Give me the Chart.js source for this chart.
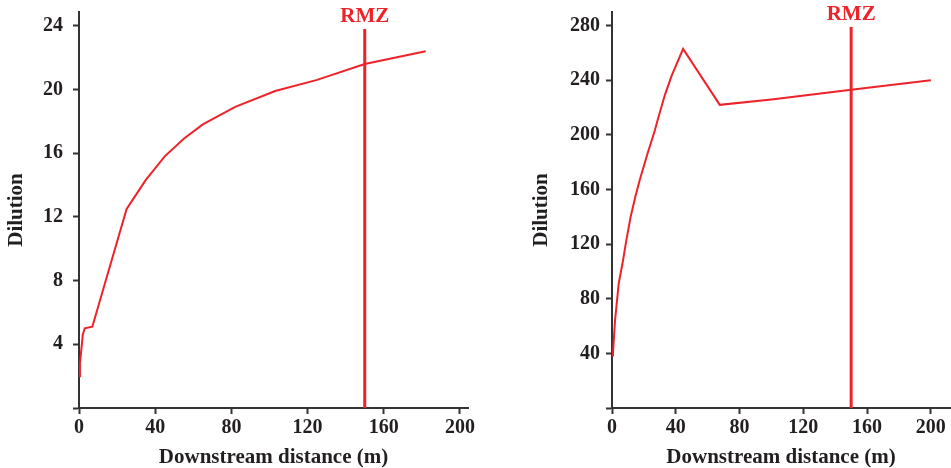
<!DOCTYPE html>
<html>
<head>
<meta charset="utf-8">
<script src="https://cdn.jsdelivr.net/npm/chart.js@4/dist/chart.umd.min.js"></script>
<style>
  html, body { margin: 0; padding: 0; background: #fff; }
  body { width: 951px; height: 468px; position: relative; overflow: hidden; }
  .box { position: absolute; top: 0; height: 468px; }
  #leftBox { left: 0; width: 480px; }
  #rightBox { left: 480px; width: 471px; }
</style>
</head>
<body>
<div class="box" id="leftBox"><canvas id="left"></canvas></div>
<div class="box" id="rightBox"><canvas id="right"></canvas></div>
<script>
// ---- Data ----
const leftDistance = [0, 0.5, 1, 2, 3, 7, 15, 25, 35, 45, 55, 65, 82, 103, 125, 150, 182];
const leftDilution = [2.0, 2.8, 3.4, 4.6, 5.0, 5.1, 8.4, 12.5, 14.3, 15.8, 16.9, 17.8, 18.9, 19.9, 20.6, 21.6, 22.4];

const rightDistance = [0, 0.6, 1.9, 4.2, 6.9, 9, 11.7, 14.7, 17.4, 22.2, 26.8, 28.9, 33.1, 37.3, 44.6, 67.6, 100, 150, 200];
const rightDilution = [38.5, 40, 64, 91, 108, 123, 140, 155, 167, 186, 203, 212, 229, 243, 263, 222, 226, 233, 240];

const rmzDistance = 150;
const leftRmzTop = 23.8;
const rightRmzTop = 279;

const xTicks = [0, 40, 80, 120, 160, 200];
const leftYTicks = [0, 4, 8, 12, 16, 20, 24];
const rightYTicks = [0, 40, 80, 120, 160, 200, 240, 280];

const xTitle = 'Downstream distance (m)';
const yTitle = 'Dilution';
const rmzText = 'RMZ';

// ---- Styles ----
const RED = '#ee2229';
const INK = '#231f20';
const AXIS = '#333333';
const SERIF = '"Liberation Serif", "Times New Roman", serif';

const rmzLabel = {
  id: 'rmzLabel',
  afterDatasetsDraw(chart, args, opts) {
    const { ctx, scales } = chart;
    const px = scales.x.getPixelForValue(opts.at);
    const py = scales.y.getPixelForValue(opts.top) - 7;
    ctx.save();
    ctx.font = 'bold 21px ' + SERIF;
    ctx.fillStyle = RED;
    ctx.textAlign = 'center';
    ctx.textBaseline = 'alphabetic';
    ctx.fillText(opts.text, px, py);
    ctx.restore();
  }
};

function makeChart(id, xs, ys, cfg) {
  const curve = xs.map((x, i) => ({ x: x, y: ys[i] }));
  const rmz = [{ x: rmzDistance, y: 0 }, { x: rmzDistance, y: cfg.rmzTop }];
  return new Chart(document.getElementById(id), {
    type: 'line',
    data: {
      datasets: [
        { data: curve, borderColor: RED, borderWidth: 2, pointRadius: 0, tension: 0, clip: false },
        { data: rmz, borderColor: RED, borderWidth: 3, pointRadius: 0, tension: 0, clip: false }
      ]
    },
    plugins: [rmzLabel],
    options: {
      responsive: true,
      maintainAspectRatio: false,
      animation: false,
      events: [],
      layout: { padding: { top: 12, right: cfg.padRight, bottom: 0, left: 0 } },
      plugins: {
        legend: { display: false },
        tooltip: { enabled: false },
        rmzLabel: { at: rmzDistance, top: cfg.rmzTop, text: rmzText }
      },
      scales: {
        x: {
          type: 'linear',
          min: 0,
          max: cfg.xMax,
          afterBuildTicks: (axis) => { axis.ticks = xTicks.map(v => ({ value: v })); },
          afterFit: (s) => { s.height = 60; s.paddingLeft = 0; s.paddingRight = 0; },
          grid: { display: true, drawOnChartArea: false, drawTicks: true, tickLength: 6, tickWidth: 2, color: AXIS },
          border: { display: true, color: AXIS, width: 2 },
          ticks: { color: INK, font: { family: SERIF, size: 20, weight: 'bold', lineHeight: 1.2 }, padding: 2, maxRotation: 0 },
          title: { display: true, text: xTitle, color: INK, font: { family: SERIF, size: 21, weight: 'bold', lineHeight: 1 }, padding: { top: 0, bottom: 0 } }
        },
        y: {
          type: 'linear',
          min: 0,
          max: cfg.yMax,
          afterBuildTicks: (axis) => { axis.ticks = cfg.yTicks.map(v => ({ value: v })); },
          afterFit: (s) => { s.width = cfg.yWidth; s.paddingTop = 0; s.paddingBottom = 0; },
          grid: { display: true, drawOnChartArea: false, drawTicks: true, tickLength: 6, tickWidth: 2, color: AXIS },
          border: { display: true, color: AXIS, width: 2 },
          ticks: {
            color: INK,
            font: { family: SERIF, size: 20, weight: 'bold' },
            padding: cfg.yTickPad,
            callback: (v) => (v === 0 ? '' : String(v))
          },
          title: { display: true, text: yTitle, color: INK, font: { family: SERIF, size: 21, weight: 'bold', lineHeight: 1 }, padding: { top: cfg.yTitlePad, bottom: 0 } }
        }
      }
    }
  });
}

makeChart('left', leftDistance, leftDilution, {
  rmzTop: leftRmzTop, xMax: 204.2, yMax: 24.86, yTicks: leftYTicks,
  yWidth: 79, yTickPad: 10, yTitlePad: 6.5, padRight: 12
});
makeChart('right', rightDistance, rightDilution, {
  rmzTop: rightRmzTop, xMax: 212, yMax: 290, yTicks: rightYTicks,
  yWidth: 132, yTickPad: 6, yTitlePad: 51.5, padRight: 1
});
</script>
</body>
</html>
